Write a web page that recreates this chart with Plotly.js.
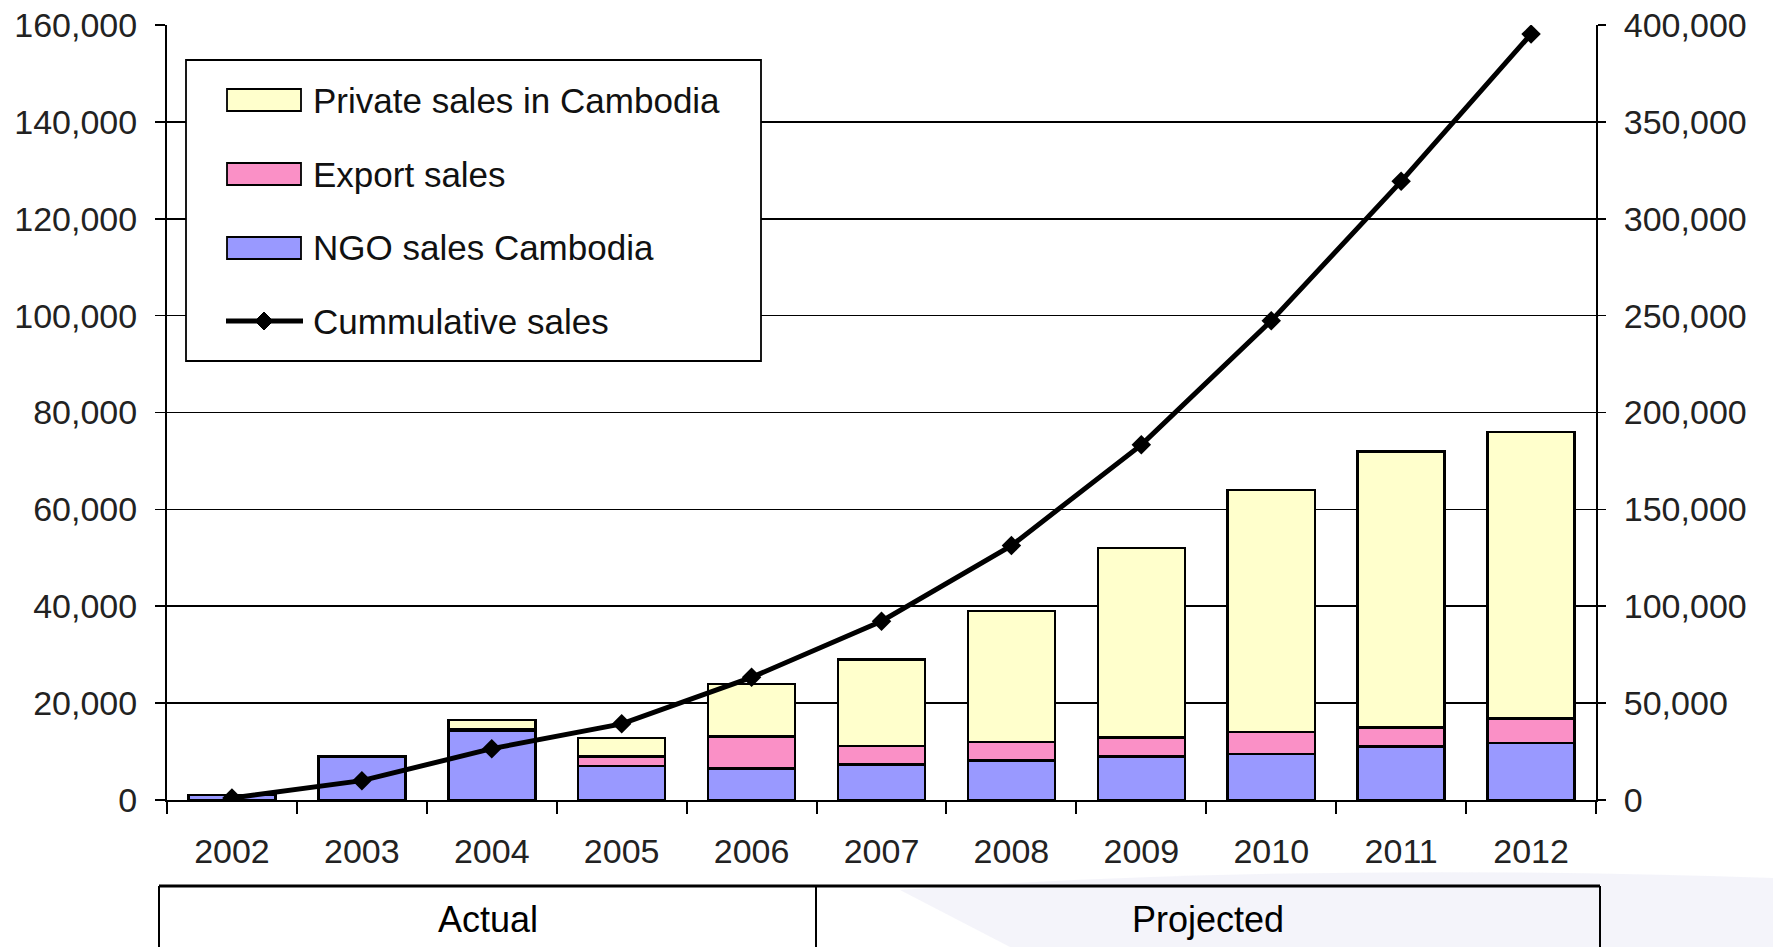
<!DOCTYPE html>
<html>
<head>
<meta charset="utf-8">
<script src="https://cdn.plot.ly/plotly-3.0.1.min.js"></script>
<style>html,body{margin:0;padding:0;background:#fff;}</style>
</head>
<body>
<div id="chart" style="width:1773px;height:947px;"></div>
<script>
// ---- data ----
const years = ['2002','2003','2004','2005','2006','2007','2008','2009','2010','2011','2012'];
const ngoSales = [1000, 9000, 14200, 7000, 6500, 7300, 8200, 9000, 9500, 11000, 11800];
const exportSales = [0, 0, 500, 2000, 6600, 3900, 3800, 3900, 4500, 4000, 5000];
const privateSales = [0, 0, 1800, 3800, 10900, 17800, 27000, 39100, 50000, 57000, 59200];
const cumulativeSales = [1000, 10000, 26500, 39300, 63300, 92300, 131300, 183300, 247300, 319300, 395300];
const seriesNames = ['Private sales in Cambodia', 'Export sales', 'NGO sales Cambodia', 'Cummulative sales'];
const periodLabels = ['Actual', 'Projected'];

// ---- styling ----
const cYellow = '#FFFFCC', cPink = '#FA90C6', cPurple = '#9999FF';
const W = 1773, H = 947, L = 167, R = 1596, T = 25, B = 800;
const px = X => (X - L) / (R - L);
const py = Y => (B - Y) / (B - T);
const barLine = {color: '#000', width: 2.5};
const arial = 'Liberation Sans, Arial, sans-serif';

const traces = [
  {type: 'bar', x: years, y: ngoSales, name: seriesNames[2], marker: {color: cPurple, line: barLine}},
  {type: 'bar', x: years, y: exportSales, name: seriesNames[1], marker: {color: cPink, line: barLine}},
  {type: 'bar', x: years, y: privateSales, name: seriesNames[0], marker: {color: cYellow, line: barLine}},
  {type: 'scatter', mode: 'lines+markers', x: years, y: cumulativeSales, yaxis: 'y2', name: seriesNames[3],
   line: {color: '#000', width: 5}, marker: {symbol: 'diamond', size: 15, color: '#000'}}
];

const shapes = [];
const annotations = [];

// faint background swoosh (decorative)
shapes.push({type: 'path', xref: 'paper', yref: 'paper', layer: 'below',
  path: `M ${px(900)} ${py(890)} Q ${px(1300)} ${py(862)} ${px(1773)} ${py(878)} L ${px(1773)} ${py(947)} L ${px(1010)} ${py(947)} Z`,
  fillcolor: 'rgba(236,236,246,0.6)', line: {width: 0}});

// custom legend
shapes.push({type: 'rect', xref: 'paper', yref: 'paper', x0: px(186), x1: px(761), y0: py(60), y1: py(361),
  fillcolor: '#fff', line: {color: '#000', width: 1.8}, layer: 'above'});
const legendRows = [
  {name: seriesNames[0], color: cYellow, cy: 100},
  {name: seriesNames[1], color: cPink, cy: 174},
  {name: seriesNames[2], color: cPurple, cy: 248},
  {name: seriesNames[3], color: null, cy: 321}
];
legendRows.forEach(r => {
  if (r.color) {
    shapes.push({type: 'rect', xref: 'paper', yref: 'paper', x0: px(227), x1: px(301), y0: py(r.cy - 11), y1: py(r.cy + 11),
      fillcolor: r.color, line: {color: '#000', width: 1.8}, layer: 'above'});
  } else {
    shapes.push({type: 'line', xref: 'paper', yref: 'paper', x0: px(226), x1: px(303), y0: py(r.cy), y1: py(r.cy),
      line: {color: '#000', width: 5}, layer: 'above'});
    shapes.push({type: 'path', xref: 'paper', yref: 'paper', layer: 'above',
      path: `M ${px(264)} ${py(r.cy - 9)} L ${px(273)} ${py(r.cy)} L ${px(264)} ${py(r.cy + 9)} L ${px(255)} ${py(r.cy)} Z`,
      fillcolor: '#000', line: {color: '#000', width: 1}});
  }
  annotations.push({xref: 'paper', yref: 'paper', x: px(311), y: py(r.cy), xanchor: 'left', yanchor: 'middle',
    text: r.name, showarrow: false, font: {family: arial, size: 35, color: '#111'}});
});

// period table below axis
const tblTop = 886, tblL = 159, tblMid = 816, tblR = 1600;
shapes.push({type: 'line', xref: 'paper', yref: 'paper', x0: px(tblL), x1: px(tblR), y0: py(tblTop), y1: py(tblTop), line: {color: '#000', width: 3}});
[tblL, tblMid, tblR].forEach(X => shapes.push({type: 'line', xref: 'paper', yref: 'paper', x0: px(X), x1: px(X), y0: py(tblTop), y1: py(H + 2), line: {color: '#000', width: 2}}));
annotations.push({xref: 'paper', yref: 'paper', x: px((tblL + tblMid) / 2), y: py(919), xanchor: 'center', yanchor: 'middle',
  text: periodLabels[0], showarrow: false, font: {family: arial, size: 36, color: '#000'}});
annotations.push({xref: 'paper', yref: 'paper', x: px((tblMid + tblR) / 2), y: py(919), xanchor: 'center', yanchor: 'middle',
  text: periodLabels[1], showarrow: false, font: {family: arial, size: 36, color: '#000'}});

const layout = {
  width: W, height: H,
  margin: {l: L, r: W - R, t: T, b: H - B, pad: 0},
  paper_bgcolor: '#fff', plot_bgcolor: 'rgba(0,0,0,0)',
  barmode: 'stack', bargap: 0.33,
  showlegend: false,
  xaxis: {type: 'category', range: [-0.5, 10.5], showline: true, linecolor: '#000', linewidth: 2, ticks: 'outside', tickson: 'boundaries',
    ticklen: 12, tickwidth: 2, tickcolor: '#000', showgrid: false, zeroline: false,
    tickfont: {family: arial, size: 34, color: '#222'}, ticklabelstandoff: 20},
  yaxis: {range: [0, 160000], dtick: 20000, tickformat: ',d', showline: true, linecolor: '#000', linewidth: 2,
    showgrid: true, gridcolor: '#000', gridwidth: 1.6, zeroline: false, ticks: 'outside', ticklen: 10, tickwidth: 1.6, tickcolor: '#000',
    tickfont: {family: arial, size: 34, color: '#222'}, ticklabelstandoff: 11},
  yaxis2: {range: [0, 400000], dtick: 50000, tickformat: ',d', overlaying: 'y', side: 'right', showline: true, linecolor: '#000', linewidth: 2,
    showgrid: false, zeroline: false, ticks: 'outside', ticklen: 8, tickwidth: 1.6, tickcolor: '#000',
    tickfont: {family: arial, size: 34, color: '#222'}, ticklabelstandoff: 11},
  shapes: shapes,
  annotations: annotations,
  font: {family: arial, color: '#222'}
};

Plotly.newPlot('chart', traces, layout, {displayModeBar: false, staticPlot: true});
</script>
</body>
</html>
